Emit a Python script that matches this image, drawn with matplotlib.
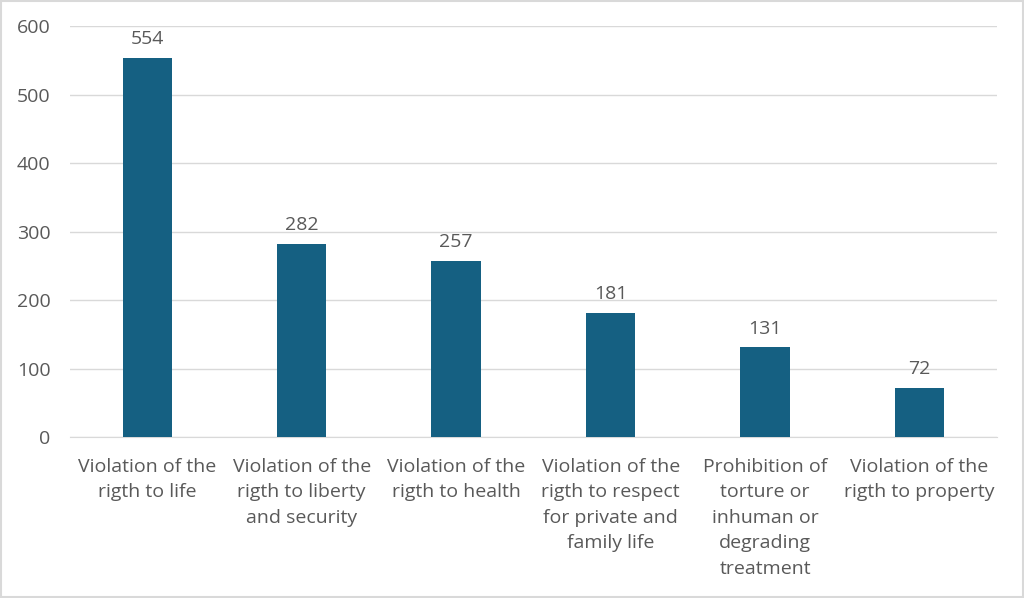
import matplotlib.pyplot as plt
from matplotlib.patches import Rectangle

categorias = [
    "Violation of the\nrigth to life",
    "Violation of the\nrigth to liberty\nand security",
    "Violation of the\nrigth to health",
    "Violation of the\nrigth to respect\nfor private and\nfamily life",
    "Prohibition of\ntorture or\ninhuman or\ndegrading\ntreatment",
    "Violation of the\nrigth to property",
]
valores = [554, 282, 257, 181, 131, 72]
yticks = [0, 100, 200, 300, 400, 500, 600]

COLOR_BARRA = "#156082"
GRIS_TEXTO = "#595959"
GRIS_LINEA = "#d9d9d9"

plt.rcParams["font.family"] = ["Open Sans", "DejaVu Sans"]

fig = plt.figure(figsize=(10.24, 5.98), dpi=100)
ax = fig.add_axes([0.0684, 0.2692, 0.905, 0.6873])

x = range(len(categorias))
barras = ax.bar(x, valores, width=0.32, color=COLOR_BARRA, zorder=3)
ax.bar_label(barras, padding=7, fontsize=14, color=GRIS_TEXTO)

ax.set_xlim(-0.5, len(categorias) - 0.5)
ax.set_ylim(0, 600)
ax.set_yticks(yticks)
ax.set_xticks(list(x))
ax.set_xticklabels(categorias, fontsize=14, color=GRIS_TEXTO, linespacing=1.53)
ax.tick_params(axis="y", labelsize=14, labelcolor=GRIS_TEXTO, length=0, pad=14)
ax.tick_params(axis="x", length=0, pad=15)

ax.grid(axis="y", color=GRIS_LINEA, linewidth=1, zorder=0)
for lado in ["top", "right", "left"]:
    ax.spines[lado].set_visible(False)
ax.spines["bottom"].set_color(GRIS_LINEA)

# borde del gráfico
fig.patches.append(Rectangle((0.001, 0.001), 0.998, 0.998, transform=fig.transFigure,
                             fill=False, edgecolor=GRIS_LINEA, linewidth=1.5))

fig.savefig("out.png", dpi=100)
